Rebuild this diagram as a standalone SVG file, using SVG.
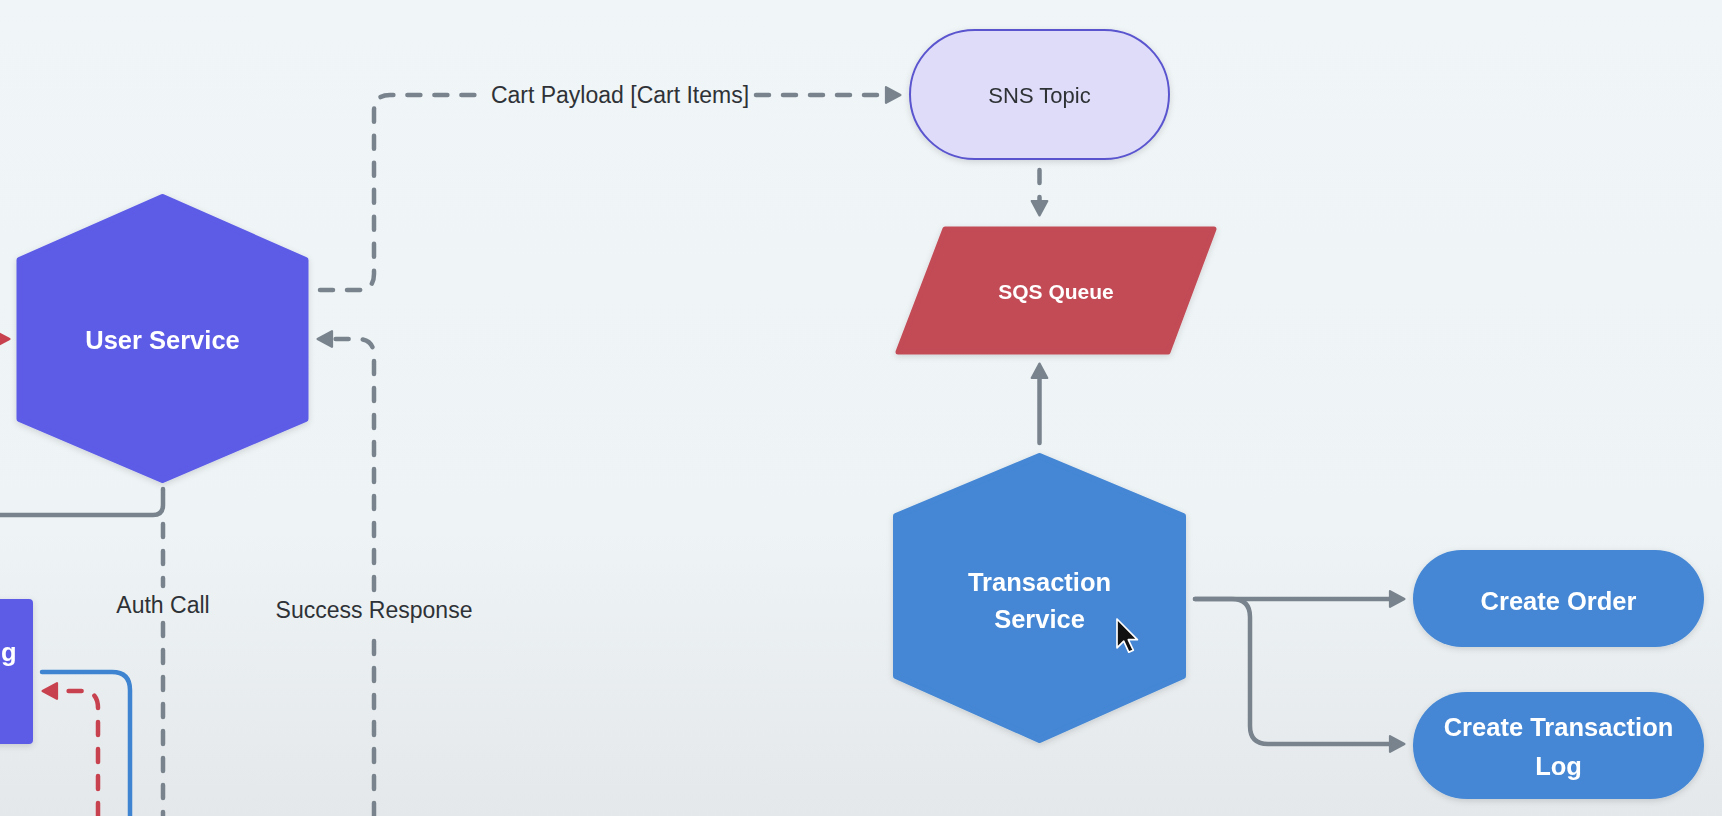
<svg xmlns="http://www.w3.org/2000/svg" width="1722" height="816" viewBox="0 0 1722 816">
<defs>
<linearGradient id="bg" x1="0" y1="0" x2="0" y2="1">
<stop offset="0" stop-color="#f0f5f7"/>
<stop offset="0.65" stop-color="#eef3f5"/>
<stop offset="1" stop-color="#e4e8ea"/>
</linearGradient>
<filter id="sh" x="-10%" y="-10%" width="120%" height="125%">
<feDropShadow dx="0" dy="2" stdDeviation="3" flood-color="#000" flood-opacity="0.14"/>
</filter>
<marker id="ag" markerUnits="userSpaceOnUse" markerWidth="20" markerHeight="20" viewBox="-2 -9 18 18" refX="0" refY="0" orient="auto">
<path d="M0,-7 L13,0 L0,7 Z" fill="#78838d" stroke="#78838d" stroke-width="2" stroke-linejoin="round"/>
</marker>
<marker id="ar" markerUnits="userSpaceOnUse" markerWidth="20" markerHeight="20" viewBox="-2 -9 18 18" refX="0" refY="0" orient="auto">
<path d="M0,-7 L13,0 L0,7 Z" fill="#c8414e" stroke="#c8414e" stroke-width="2" stroke-linejoin="round"/>
</marker>
</defs>
<style>
.lbl{font-family:"Liberation Sans",Arial,sans-serif;font-size:23px;fill:#2e3236;text-anchor:middle}
.wt{font-family:"Liberation Sans",Arial,sans-serif;font-size:25.5px;font-weight:bold;fill:#ffffff;text-anchor:middle}
.dash{fill:none;stroke:#78838d;stroke-width:4.5;stroke-linecap:round;stroke-dasharray:13 14}
.solid{fill:none;stroke:#78838d;stroke-width:4.5;stroke-linecap:round}
.rdash{fill:none;stroke:#c8414e;stroke-width:4.5;stroke-linecap:round;stroke-dasharray:13 14}
.bsolid{fill:none;stroke:#3f84d0;stroke-width:4.5;stroke-linecap:round}
</style>
<rect x="0" y="0" width="1722" height="816" fill="url(#bg)"/>

<g id="connectors">
<path class="dash" d="M320 290 H358 Q374 290 374 274 V111 Q374 95 390 95 H484"/>
<path class="dash" d="M756 95 H886" marker-end="url(#ag)"/>
<path class="dash" d="M1039.5 170 V201" stroke-dasharray="17 60" marker-end="url(#ag)"/>
<path class="solid" d="M1039.5 443 V378" marker-end="url(#ag)"/>
<path class="solid" d="M1195 599 H1390" marker-end="url(#ag)"/>
<path class="solid" d="M1195 599 H1232 Q1250 599 1250 617 V726 Q1250 744 1268 744 H1390" marker-end="url(#ag)"/>
<path class="dash" d="M374 590 V356 Q374 339 358 339 H332" marker-end="url(#ag)"/>
<path class="dash" d="M374 816 V632"/>
<path class="solid" d="M163 489 V505 Q163 515 153 515 H-5"/>
<path class="dash" d="M163 524 V586"/>
<path class="dash" d="M163 623 V816"/>
<path class="solid" d="M-20 339 H-5" stroke="#c8414e" marker-end="url(#ar)"/>
<path class="bsolid" d="M42 672 H112 Q130 672 130 690 V820"/>
<path class="rdash" d="M98 816 V708 Q98 691 82 691 H57" marker-end="url(#ar)"/>
<text class="lbl" x="620" y="103">Cart Payload [Cart Items]</text>
<text class="lbl" x="163" y="613">Auth Call</text>
<text class="lbl" x="374" y="618">Success Response</text>
</g>

<g id="user-service" filter="url(#sh)">
<path d="M162.5 197 L305.5 260 L305.5 419 L162.5 480 L19.5 419 L19.5 260 Z" fill="#5c5be7" stroke="#5c5be7" stroke-width="6" stroke-linejoin="round"/>
<text class="wt" x="162.5" y="349">User Service</text>
</g>

<g id="sns-topic" filter="url(#sh)">
<rect x="910" y="30" width="259" height="129" rx="64.5" fill="#dedcf8" stroke="#5a55cf" stroke-width="2"/>
<text class="lbl" x="1039.5" y="103" style="font-size:22px">SNS Topic</text>
</g>

<g id="sqs-queue" filter="url(#sh)">
<path d="M945 229 L1214 229 L1168 352 L898 352 Z" fill="#c24b57" stroke="#c24b57" stroke-width="5" stroke-linejoin="round"/>
<text class="wt" x="1056" y="299" style="font-size:21px">SQS Queue</text>
</g>

<g id="transaction-service" filter="url(#sh)">
<path d="M1039.5 456 L1183 516 L1183 676 L1039.5 740 L896 676 L896 516 Z" fill="#4487d4" stroke="#4487d4" stroke-width="6" stroke-linejoin="round"/>
<text class="wt" x="1039.5" y="591">Transaction</text>
<text class="wt" x="1039.5" y="628">Service</text>
</g>

<g id="create-order" filter="url(#sh)">
<rect x="1413" y="550" width="291" height="97" rx="48.5" fill="#4487d4"/>
<text class="wt" x="1558.5" y="610">Create Order</text>
</g>

<g id="create-transaction-log" filter="url(#sh)">
<rect x="1413" y="692" width="291" height="107" rx="53.5" fill="#4487d4"/>
<text class="wt" x="1558.5" y="736">Create Transaction</text>
<text class="wt" x="1558.5" y="775">Log</text>
</g>

<g id="left-box" filter="url(#sh)">
<rect x="-20" y="599" width="53" height="145" rx="4" fill="#5c5be7"/>
<text class="wt" x="1" y="661" style="text-anchor:start">g</text>
</g>

<path d="M0 0 L0 24 L5.6 18.4 L9.8 27.6 L13.6 26 L9.4 17.2 L17 17.2 Z" transform="translate(1117 619) scale(1.2)" fill="#111" stroke="#fff" stroke-width="1.4" stroke-linejoin="round"/>
</svg>
